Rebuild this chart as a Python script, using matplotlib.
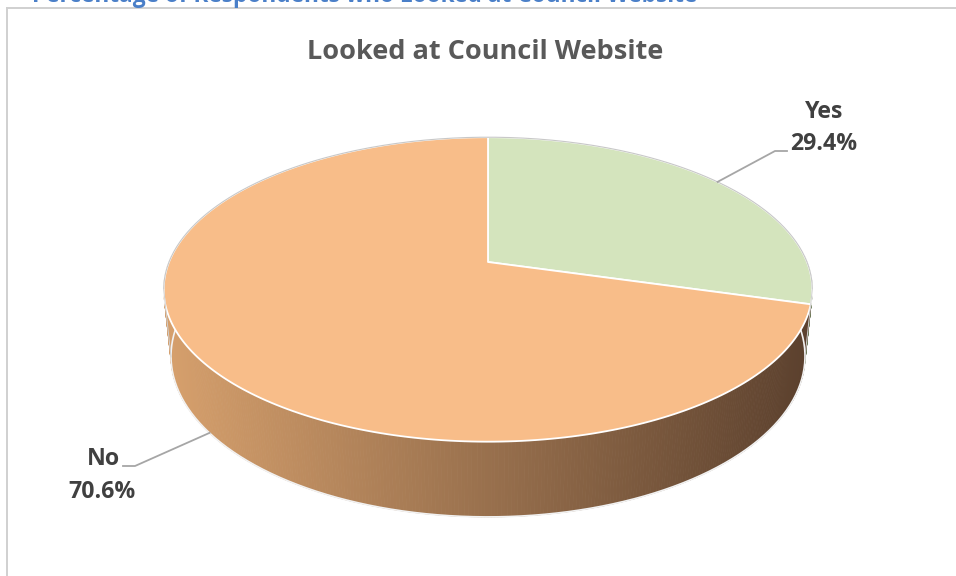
import numpy as np
import matplotlib
matplotlib.use("Agg")
import matplotlib.pyplot as plt
from matplotlib.patches import Polygon
from matplotlib.colors import to_rgb

# ---- data ----
labels = ["Yes", "No"]
shares = [29.4, 70.6]
top_colors = ["#d4e4bd", "#f8bd89"]
wall_light = ["#b8c8a0", "#d59f6c"]
wall_dark = ["#6c7856", "#5c412e"]
title = "Looked at Council Website"
header = "Percentage of Respondents who Looked at Council Website"

W, H = 956, 576
fig = plt.figure(figsize=(W / 100, H / 100), dpi=100)
ax = fig.add_axes([0, 0, 1, 1])
ax.set_xlim(0, W)
ax.set_ylim(H, 0)
ax.axis("off")

FONT = ["Open Sans", "DejaVu Sans"]

# ---- simple perspective camera for a 3D pie ----
cx, cy = 488.0, 262.0
scale = 319.0
elev = np.radians(27.5)
dist = 4.92
thick = 0.238
sin_e, cos_e = np.sin(elev), np.cos(elev)


def project(a_deg, r=1.0, z=0.0):
    a = np.radians(a_deg)
    x = r * np.sin(a)
    y = r * np.cos(a)
    u = y * sin_e + z * cos_e
    w = y * cos_e - z * sin_e
    f = dist / (dist + w)
    return cx + scale * x * f, cy - scale * u * f


total = float(sum(shares))
bounds = np.concatenate([[0.0], np.cumsum(shares) / total * 360.0])


def slice_of(angle):
    for i in range(len(shares)):
        if bounds[i] <= angle < bounds[i + 1]:
            return i
    return len(shares) - 1


def mix(c1, c2, t):
    a, b = np.array(to_rgb(c1)), np.array(to_rgb(c2))
    return tuple(a + (b - a) * np.clip(t, 0, 1))


# outer wall (front half only; top face hides the rest)
x_left, _ = project(270.0)
x_right, _ = project(90.0)
step = 0.5
angles = np.arange(88.0, 272.0, step)
for a0 in angles:
    a1 = a0 + step
    am = 0.5 * (a0 + a1)
    i = slice_of(am % 360)
    p0t = project(a0)
    p1t = project(a1)
    p1b = project(a1, z=-thick)
    p0b = project(a0, z=-thick)
    xm = 0.5 * (p0t[0] + p1t[0])
    t = (xm - x_left) / (x_right - x_left)
    col = mix(wall_light[i], wall_dark[i], t)
    ax.add_patch(Polygon([p0t, p1t, p1b, p0b], closed=True, facecolor=col,
                         edgecolor=col, linewidth=0.6, zorder=2))

# bottom rim
arc = np.linspace(90, 270, 200)
bx, by = zip(*[project(a, z=-thick) for a in arc])
ax.plot(bx, by, color="#f2f2f2", lw=1.2, zorder=3)

# top face slices
for i in range(len(shares)):
    arc = np.linspace(bounds[i], bounds[i + 1], 240)
    pts = [project(0, r=0.0)] + [project(a) for a in arc]
    ax.add_patch(Polygon(pts, closed=True, facecolor=top_colors[i],
                         edgecolor="white", linewidth=1.3, zorder=4,
                         joinstyle="round"))

# thin grey outline around the back of the pie
arc = np.linspace(-100, 100, 200)
ox, oy = zip(*[project(a) for a in arc])
ax.plot(ox, oy, color="#c8c8c8", lw=0.8, zorder=5)
for a in (100.4, 259.6):
    (xa, ya), (xb, yb) = project(a), project(a, z=-thick)
    ax.plot([xa, xb], [ya, yb], color="#d0d0d0", lw=0.7, zorder=5)

# ---- data labels with leader lines ----
lab_col = "#404040"
lead_col = "#a6a6a6"
mids = 0.5 * (bounds[:-1] + bounds[1:])
lab_size = 16.7

# Yes
sx, sy = project(mids[0])
ax.plot([sx, 775, 787], [sy, 151, 151], color=lead_col, lw=1.3, zorder=6)
ax.text(824, 112, labels[0], ha="center", va="center", fontsize=lab_size,
        fontweight="bold", color=lab_col, family=FONT, zorder=7)
ax.text(824, 144, f"{shares[0]:.1f}%", ha="center", va="center", fontsize=lab_size,
        fontweight="bold", color=lab_col, family=FONT, zorder=7)

# No
sx, sy = project(mids[1], z=-thick)
ax.plot([sx, 135, 123], [sy, 466, 466], color=lead_col, lw=1.3, zorder=6)
ax.text(103, 459, labels[1], ha="center", va="center", fontsize=lab_size,
        fontweight="bold", color=lab_col, family=FONT, zorder=7)
ax.text(102, 492, f"{shares[1]:.1f}%", ha="center", va="center", fontsize=lab_size,
        fontweight="bold", color=lab_col, family=FONT, zorder=7)

# ---- titles and chart frame ----
ax.text(485, 52, title, ha="center", va="center", fontsize=19.5,
        fontweight="bold", color="#595959", family=FONT)
ax.text(32, 2.5, header, ha="left", va="baseline", fontsize=16.3,
        fontweight="bold", color="#4a7fc8", family=FONT)
ax.plot([7.5, 7.5], [8, H], color="#d0d0d0", lw=1.4, zorder=1)
ax.plot([7.5, W], [8, 8], color="#d0d0d0", lw=1.4, zorder=1)

fig.savefig("out.png", dpi=100, facecolor="white")
